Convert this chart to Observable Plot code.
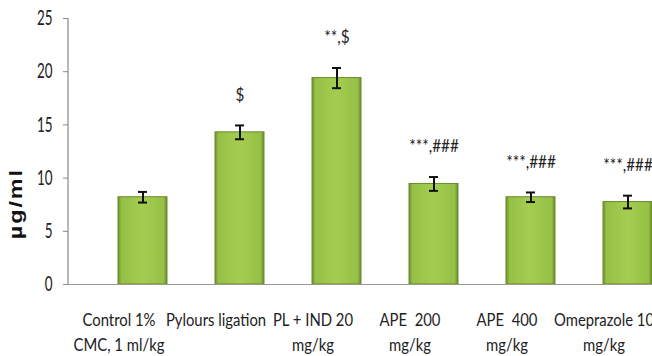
<!DOCTYPE html>
<html>
<head>
<meta charset="utf-8">
<script src="https://cdn.jsdelivr.net/npm/d3@7"></script>
<script src="https://cdn.jsdelivr.net/npm/@observablehq/plot@0.6"></script>
<style>
  html, body { margin: 0; padding: 0; background: #fff; }
  #chart svg { display: block; overflow: visible; }
</style>
</head>
<body>
<div id="chart"></div>
<script>
const categories = [
  "Control 1%\nCMC, 1 ml/kg",
  "Pylours ligation",
  "PL + IND 20\nmg/kg",
  "APE  200\nmg/kg",
  "APE  400\nmg/kg",
  "Omeprazole 10\nmg/kg"
];
const means = [8.2, 14.3, 19.4, 9.45, 8.2, 7.75];
const errors = [0.5, 0.65, 0.95, 0.65, 0.45, 0.6];
const annotations = ["", "$", "**,$", "***,###", "***,###", "***,###"];
const yTicks = [0, 5, 10, 15, 20, 25];
const yTitle = "µg/ml";

const data = categories.map((c, i) => ({
  cat: c, mean: means[i], err: errors[i], note: annotations[i]
}));

const font = "Lato, 'Open Sans', sans-serif";

const gradient = () => {
  const defs = d3.create("svg:defs");
  const g = defs.append("linearGradient").attr("id", "barGrad")
    .attr("x1", "0").attr("x2", "1").attr("y1", "0").attr("y2", "0");
  [["0%", "#6f8f2c"], ["7%", "#96c046"], ["50%", "#a4cd50"], ["93%", "#96c046"], ["100%", "#6a8a2a"]]
    .forEach(([o, c]) => g.append("stop").attr("offset", o).attr("stop-color", c));
  return defs.node();
};

const chart = Plot.plot({
  width: 652,
  height: 356,
  marginLeft: 68,
  marginRight: 0,
  marginTop: 18,
  marginBottom: 72,
  style: { fontFamily: font, background: "white", overflow: "visible" },
  x: { domain: categories, range: [68, 702], paddingInner: 0.5, paddingOuter: 0.5 },
  y: { domain: [0, 25] },
  marks: [
    gradient,
    Plot.axisY({
      ticks: yTicks, tickSize: 5, tickPadding: 11, fontSize: 21,
      stroke: "#888", color: "#222", label: null
    }),
    Plot.axisX({
      tickSize: 0, tickPadding: 24, fontSize: 16.5, lineHeight: 1.52, dx: -24,
      color: "#222", label: null
    }),
    Plot.barY(data, {
      x: "cat", y: "mean", fill: "url(#barGrad)", stroke: "#6a8a2a", strokeWidth: 1
    }),
    Plot.ruleY([0], { stroke: "#999", strokeWidth: 1.2 }),
    Plot.ruleX(data, {
      x: "cat", y1: d => d.mean - d.err, y2: d => d.mean + d.err,
      stroke: "#111", strokeWidth: 2
    }),
    Plot.tickY(data, {
      x: "cat", y: d => d.mean + d.err, stroke: "#111", strokeWidth: 2,
      insetLeft: 20, insetRight: 20
    }),
    Plot.tickY(data, {
      x: "cat", y: d => d.mean - d.err, stroke: "#111", strokeWidth: 2,
      insetLeft: 20, insetRight: 20
    }),
    Plot.text(data, {
      x: "cat", y: d => d.mean + d.err, text: "note", dy: -30,
      fontSize: 17, fill: "#222"
    }),
    Plot.text([yTitle], {
      y: [7.6], frameAnchor: "left", textAnchor: "middle", dx: -52, rotate: -90,
      fontSize: 18, fontWeight: "bold", fill: "#111",
      fontFamily: "'Liberation Sans', Arial, sans-serif"
    })
  ]
});

const root = d3.select(chart);
const squeeze = (sel, s) => sel.each(function () {
  const t = this.getAttribute("transform") || "";
  this.setAttribute("transform", t + ` scale(${s})`);
});
// condensed look of the original fonts
squeeze(root.selectAll('g[aria-label="y-axis tick label"] text'), "0.64,1");
squeeze(root.selectAll('g[aria-label="x-axis tick label"] text'), "0.9,1");
squeeze(root.selectAll("text").filter(function () {
  return annotations.includes(this.textContent) && this.textContent !== "";
}), "0.9,1");
root.selectAll("text").filter(function () {
  return this.textContent === yTitle;
}).each(function () {
  const t = this.getAttribute("transform") || "";
  this.setAttribute("transform", t + " scale(1.3,1)");
  this.setAttribute("letter-spacing", "1.5px");
});

root.append("line")
  .attr("x1", 68).attr("x2", 68).attr("y1", 18).attr("y2", 284)
  .attr("stroke", "#888").attr("stroke-width", 1.2);

document.getElementById("chart").appendChild(chart);
</script>
</body>
</html>
